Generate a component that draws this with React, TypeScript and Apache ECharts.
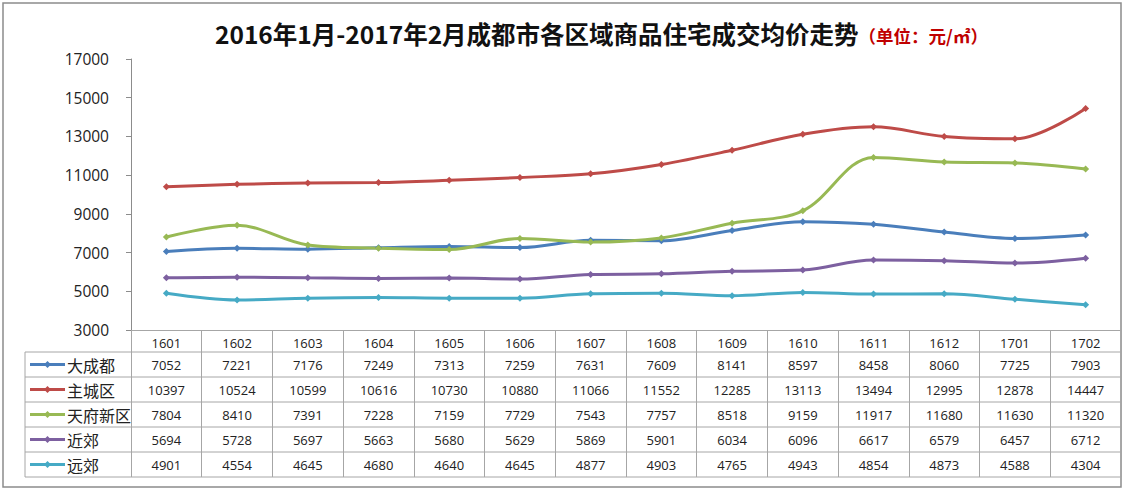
import React, { useEffect, useRef } from "react";
import * as echarts from "echarts";

const categories = ["1601", "1602", "1603", "1604", "1605", "1606", "1607", "1608", "1609", "1610", "1611", "1612", "1701", "1702"];
const seriesNames = ["大成都", "主城区", "天府新区", "近郊", "远郊"];
const daChengdu = [7052, 7221, 7176, 7249, 7313, 7259, 7631, 7609, 8141, 8597, 8458, 8060, 7725, 7903];
const zhuCheng = [10397, 10524, 10599, 10616, 10730, 10880, 11066, 11552, 12285, 13113, 13494, 12995, 12878, 14447];
const tianFu = [7804, 8410, 7391, 7228, 7159, 7729, 7543, 7757, 8518, 9159, 11917, 11680, 11630, 11320];
const jinJiao = [5694, 5728, 5697, 5663, 5680, 5629, 5869, 5901, 6034, 6096, 6617, 6579, 6457, 6712];
const yuanJiao = [4901, 4554, 4645, 4680, 4640, 4645, 4877, 4903, 4765, 4943, 4854, 4873, 4588, 4304];
const seriesData = [daChengdu, zhuCheng, tianFu, jinJiao, yuanJiao];
const colors = ["#4A7EBB", "#BE4B48", "#98B954", "#7D60A0", "#46AAC5"];
const yMin = 3000;
const yMax = 17000;
const yInterval = 2000;

const W = 1124;
const H = 491;
const gridLeft = 131;
const gridRight = 3;
const gridTop = 59;
const axisY = 330;
const headerBottom = 352;
const rowH = 25;
const tableLeft = 25;
const tableRight = 1121;
const lineColor = "#a6a6a6";
const numFont = "'Open Sans', 'Noto Sans', sans-serif";
const cjkFont = "'Noto Sans CJK SC', sans-serif";

export default function App() {
  const ref = useRef<HTMLDivElement>(null);
  useEffect(() => {
    if (!ref.current) return;
    const chart = echarts.init(ref.current, null, { renderer: "svg" });
    const tableBottom = headerBottom + rowH * seriesNames.length;
    const option: any = {
      animation: false,
      backgroundColor: "#ffffff",
      title: {
        left: 210,
        top: 16,
        text: "{a|2016年1月-2017年2月成都市各区域商品住宅成交均价走势}{b|（单位：元/㎡）}",
        textStyle: {
          rich: {
            a: { fontFamily: cjkFont, fontWeight: "bold", fontSize: 24.5, color: "#111" },
            b: { fontFamily: cjkFont, fontWeight: "bold", fontSize: 17.5, color: "#C00000", padding: [4, 0, 0, 0] },
          },
        },
      },
      grid: { left: gridLeft, right: gridRight, top: gridTop, bottom: H - axisY },
      xAxis: {
        type: "category",
        data: categories,
        boundaryGap: true,
        axisLine: { lineStyle: { color: lineColor, width: 1 } },
        axisTick: { show: true, interval: 0, length: tableBottom - axisY, lineStyle: { color: lineColor } },
        axisLabel: { interval: 0, margin: 4, fontFamily: numFont, fontSize: 13, color: "#222", lineHeight: 18 },
        splitLine: { show: false },
      },
      yAxis: {
        type: "value",
        min: yMin,
        max: yMax,
        interval: yInterval,
        axisLine: { show: true, lineStyle: { color: "#8c8c8c", width: 1 } },
        axisTick: { show: true, length: 5, lineStyle: { color: "#8c8c8c" } },
        axisLabel: {
          margin: 22,
          fontFamily: numFont,
          fontSize: 15.5,
          color: "#222",
          formatter: (v: number) => String(v),
        },
        splitLine: { show: false },
      },
      series: seriesNames.map((name, i) => ({
        name,
        type: "line",
        data: seriesData[i],
        smooth: 0.35,
        symbol: "diamond",
        symbolSize: 7,
        showSymbol: true,
        lineStyle: { color: colors[i], width: 3 },
        itemStyle: { color: colors[i] },
      })),
    };
    chart.setOption(option);

    const graphics: any[] = [];
    graphics.push({
      type: "rect",
      shape: { x: 3, y: 3, width: 1118, height: 484 },
      style: { fill: "none", stroke: "#8c8c8c", lineWidth: 1.5 },
      silent: true,
    });
    for (let r = 0; r <= seriesNames.length; r++) {
      const y = headerBottom + r * rowH;
      graphics.push({
        type: "line",
        shape: { x1: tableLeft, y1: y, x2: tableRight, y2: y },
        style: { stroke: lineColor, lineWidth: 1 },
        silent: true,
      });
    }
    graphics.push({
      type: "line",
      shape: { x1: tableLeft, y1: headerBottom, x2: tableLeft, y2: tableBottom },
      style: { stroke: lineColor, lineWidth: 1 },
      silent: true,
    });
    seriesNames.forEach((name, r) => {
      const cy = headerBottom + r * rowH + rowH / 2;
      graphics.push({
        type: "line",
        shape: { x1: 30, y1: cy, x2: 65, y2: cy },
        style: { stroke: colors[r], lineWidth: 3 },
        silent: true,
      });
      graphics.push({
        type: "polygon",
        shape: { points: [[47.5, cy - 3.5], [51, cy], [47.5, cy + 3.5], [44, cy]] },
        style: { fill: colors[r] },
        silent: true,
      });
      graphics.push({
        type: "text",
        x: 67,
        y: cy,
        style: {
          text: name,
          fontFamily: cjkFont,
          fontSize: 16,
          fill: "#222",
          textAlign: "left",
          textVerticalAlign: "middle",
        },
        silent: true,
      });
    });
    seriesData.forEach((arr, r) => {
      arr.forEach((v, c) => {
        const x = chart.convertToPixel({ xAxisIndex: 0 }, c) as number;
        graphics.push({
          type: "text",
          x,
          y: headerBottom + r * rowH + rowH / 2 + 0.5,
          style: {
            text: String(v),
            fontFamily: numFont,
            fontSize: 13,
            fill: "#222",
            textAlign: "center",
            textVerticalAlign: "middle",
          },
          silent: true,
        });
      });
    });
    chart.setOption({ graphic: graphics });

    return () => chart.dispose();
  }, []);
  return (
    <div
      ref={ref}
      style={{ position: "fixed", left: 0, top: 0, width: W, height: H, background: "#fff" }}
    />
  );
}
